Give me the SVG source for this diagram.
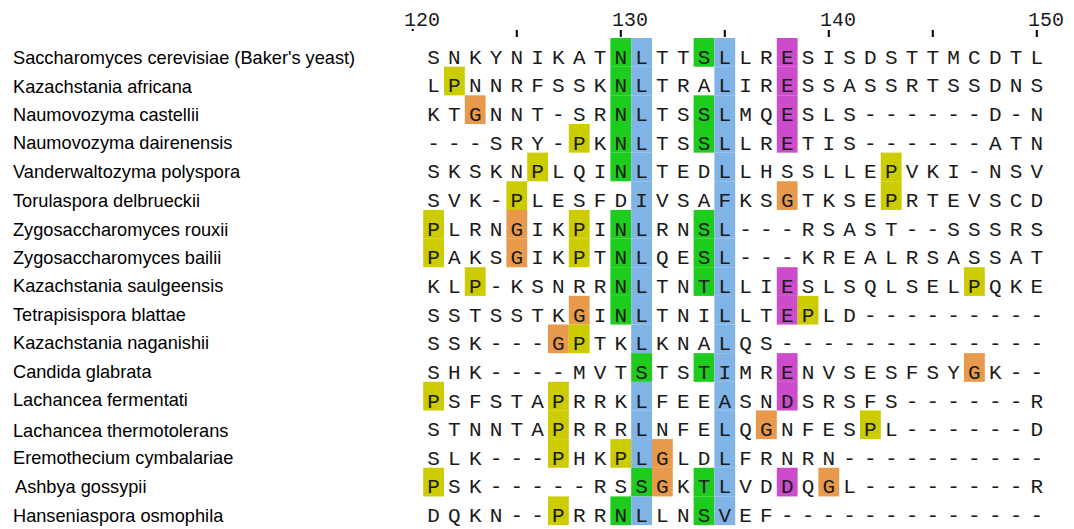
<svg xmlns="http://www.w3.org/2000/svg" width="1074" height="529" viewBox="0 0 1074 529">
<style>
.g{fill:#1dcc1d}.b{fill:#80b3e6}.m{fill:#cc4ccc}.y{fill:#cccc00}.o{fill:#e8994c}
.seq{font-family:"Liberation Mono",monospace;font-size:21px;fill:#1a1a1a;text-anchor:middle}
.lab{font-family:"Liberation Sans",Arial,sans-serif;font-size:18.2px;fill:#000}
.rul{font-family:"Liberation Mono",monospace;font-size:20px;fill:#1a1a1a}
.tick{fill:#000}
</style>
<rect width="1074" height="529" fill="#fff"/>
<g id="ruler">
<rect class="tick" x="411.8" y="29" width="2" height="2"/>
<rect class="tick" x="515.8" y="30" width="2" height="7"/>
<rect class="tick" x="619.8" y="30" width="2" height="7"/>
<rect class="tick" x="723.8" y="30" width="2" height="7"/>
<rect class="tick" x="827.8" y="30" width="2" height="7"/>
<rect class="tick" x="931.8" y="30" width="2" height="7"/>
<rect class="tick" x="1035.8" y="30" width="2" height="7"/>
<text class="rul" x="404" y="26">120</text>
<text class="rul" x="612" y="26">130</text>
<text class="rul" x="820" y="26">140</text>
<text class="rul" x="1028" y="26">150</text>
</g>
<g id="row1">
<text class="lab" x="13" y="64">Saccharomyces cerevisiae (Baker's yeast)</text>
<rect class="g" x="610.4" y="38" width="20.8" height="28.7"/><rect class="b" x="631.2" y="38" width="20.8" height="28.7"/><rect class="g" x="693.6" y="38" width="20.8" height="28.7"/><rect class="b" x="714.4" y="38" width="20.8" height="28.7"/><rect class="m" x="776.8" y="38" width="20.8" height="28.7"/>
<text class="seq" y="63.7" x="433.6 454.4 475.2 496 516.8 537.6 558.4 579.2 600 620.8 641.6 662.4 683.2 704 724.8 745.6 766.4 787.2 808 828.8 849.6 870.4 891.2 912 932.8 953.6 974.4 995.2 1016 1036.8">SNKYNIKATNLTTSLLRESISDSTTMCDTL</text>
</g>
<g id="row2">
<text class="lab" x="13" y="93">Kazachstania africana</text>
<rect class="y" x="444" y="66.65" width="20.8" height="28.7"/><rect class="g" x="610.4" y="66.65" width="20.8" height="28.7"/><rect class="b" x="631.2" y="66.65" width="20.8" height="28.7"/><rect class="b" x="714.4" y="66.65" width="20.8" height="28.7"/><rect class="m" x="776.8" y="66.65" width="20.8" height="28.7"/>
<text class="seq" y="92.3" x="433.6 454.4 475.2 496 516.8 537.6 558.4 579.2 600 620.8 641.6 662.4 683.2 704 724.8 745.6 766.4 787.2 808 828.8 849.6 870.4 891.2 912 932.8 953.6 974.4 995.2 1016 1036.8">LPNNRFSSKNLTRALIRESSASSRTSSDNS</text>
</g>
<g id="row3">
<text class="lab" x="13" y="121">Naumovozyma castellii</text>
<rect class="o" x="464.8" y="95.3" width="20.8" height="28.7"/><rect class="g" x="610.4" y="95.3" width="20.8" height="28.7"/><rect class="b" x="631.2" y="95.3" width="20.8" height="28.7"/><rect class="g" x="693.6" y="95.3" width="20.8" height="28.7"/><rect class="b" x="714.4" y="95.3" width="20.8" height="28.7"/><rect class="m" x="776.8" y="95.3" width="20.8" height="28.7"/>
<text class="seq" y="121" x="433.6 454.4 475.2 496 516.8 537.6 558.4 579.2 600 620.8 641.6 662.4 683.2 704 724.8 745.6 766.4 787.2 808 828.8 849.6 870.4 891.2 912 932.8 953.6 974.4 995.2 1016 1036.8">KTGNNT-SRNLTSSLMQESLS------D-N</text>
</g>
<g id="row4">
<text class="lab" x="13" y="148.5">Naumovozyma dairenensis</text>
<rect class="y" x="568.8" y="123.95" width="20.8" height="28.7"/><rect class="g" x="610.4" y="123.95" width="20.8" height="28.7"/><rect class="b" x="631.2" y="123.95" width="20.8" height="28.7"/><rect class="g" x="693.6" y="123.95" width="20.8" height="28.7"/><rect class="b" x="714.4" y="123.95" width="20.8" height="28.7"/><rect class="m" x="776.8" y="123.95" width="20.8" height="28.7"/>
<text class="seq" y="149.6" x="433.6 454.4 475.2 496 516.8 537.6 558.4 579.2 600 620.8 641.6 662.4 683.2 704 724.8 745.6 766.4 787.2 808 828.8 849.6 870.4 891.2 912 932.8 953.6 974.4 995.2 1016 1036.8">---SRY-PKNLTSSLLRETIS------ATN</text>
</g>
<g id="row5">
<text class="lab" x="13" y="177.5">Vanderwaltozyma polyspora</text>
<rect class="y" x="527.2" y="152.6" width="20.8" height="28.7"/><rect class="g" x="610.4" y="152.6" width="20.8" height="28.7"/><rect class="b" x="631.2" y="152.6" width="20.8" height="28.7"/><rect class="b" x="714.4" y="152.6" width="20.8" height="28.7"/><rect class="y" x="880.8" y="152.6" width="20.8" height="28.7"/>
<text class="seq" y="178.3" x="433.6 454.4 475.2 496 516.8 537.6 558.4 579.2 600 620.8 641.6 662.4 683.2 704 724.8 745.6 766.4 787.2 808 828.8 849.6 870.4 891.2 912 932.8 953.6 974.4 995.2 1016 1036.8">SKSKNPLQINLTEDLLHSSLLEPVKI-NSV</text>
</g>
<g id="row6">
<text class="lab" x="13" y="207">Torulaspora delbrueckii</text>
<rect class="y" x="506.4" y="181.25" width="20.8" height="28.7"/><rect class="b" x="631.2" y="181.25" width="20.8" height="28.7"/><rect class="b" x="714.4" y="181.25" width="20.8" height="28.7"/><rect class="o" x="776.8" y="181.25" width="20.8" height="28.7"/><rect class="y" x="880.8" y="181.25" width="20.8" height="28.7"/>
<text class="seq" y="206.9" x="433.6 454.4 475.2 496 516.8 537.6 558.4 579.2 600 620.8 641.6 662.4 683.2 704 724.8 745.6 766.4 787.2 808 828.8 849.6 870.4 891.2 912 932.8 953.6 974.4 995.2 1016 1036.8">SVK-PLESFDIVSAFKSGTKSEPRTEVSCD</text>
</g>
<g id="row7">
<text class="lab" x="13" y="236">Zygosaccharomyces rouxii</text>
<rect class="y" x="423.2" y="209.9" width="20.8" height="28.7"/><rect class="o" x="506.4" y="209.9" width="20.8" height="28.7"/><rect class="y" x="568.8" y="209.9" width="20.8" height="28.7"/><rect class="g" x="610.4" y="209.9" width="20.8" height="28.7"/><rect class="b" x="631.2" y="209.9" width="20.8" height="28.7"/><rect class="g" x="693.6" y="209.9" width="20.8" height="28.7"/><rect class="b" x="714.4" y="209.9" width="20.8" height="28.7"/>
<text class="seq" y="235.6" x="433.6 454.4 475.2 496 516.8 537.6 558.4 579.2 600 620.8 641.6 662.4 683.2 704 724.8 745.6 766.4 787.2 808 828.8 849.6 870.4 891.2 912 932.8 953.6 974.4 995.2 1016 1036.8">PLRNGIKPINLRNSL---RSAST--SSSRS</text>
</g>
<g id="row8">
<text class="lab" x="13" y="264">Zygosaccharomyces bailii</text>
<rect class="y" x="423.2" y="238.55" width="20.8" height="28.7"/><rect class="o" x="506.4" y="238.55" width="20.8" height="28.7"/><rect class="y" x="568.8" y="238.55" width="20.8" height="28.7"/><rect class="g" x="610.4" y="238.55" width="20.8" height="28.7"/><rect class="b" x="631.2" y="238.55" width="20.8" height="28.7"/><rect class="g" x="693.6" y="238.55" width="20.8" height="28.7"/><rect class="b" x="714.4" y="238.55" width="20.8" height="28.7"/>
<text class="seq" y="264.2" x="433.6 454.4 475.2 496 516.8 537.6 558.4 579.2 600 620.8 641.6 662.4 683.2 704 724.8 745.6 766.4 787.2 808 828.8 849.6 870.4 891.2 912 932.8 953.6 974.4 995.2 1016 1036.8">PAKSGIKPTNLQESL---KREALRSASSAT</text>
</g>
<g id="row9">
<text class="lab" x="13" y="292">Kazachstania saulgeensis</text>
<rect class="y" x="464.8" y="267.2" width="20.8" height="28.7"/><rect class="g" x="610.4" y="267.2" width="20.8" height="28.7"/><rect class="b" x="631.2" y="267.2" width="20.8" height="28.7"/><rect class="g" x="693.6" y="267.2" width="20.8" height="28.7"/><rect class="b" x="714.4" y="267.2" width="20.8" height="28.7"/><rect class="m" x="776.8" y="267.2" width="20.8" height="28.7"/><rect class="y" x="964" y="267.2" width="20.8" height="28.7"/>
<text class="seq" y="292.9" x="433.6 454.4 475.2 496 516.8 537.6 558.4 579.2 600 620.8 641.6 662.4 683.2 704 724.8 745.6 766.4 787.2 808 828.8 849.6 870.4 891.2 912 932.8 953.6 974.4 995.2 1016 1036.8">KLP-KSNRRNLTNTLLIESLSQLSELPQKE</text>
</g>
<g id="row10">
<text class="lab" x="13" y="321">Tetrapisispora blattae</text>
<rect class="o" x="568.8" y="295.85" width="20.8" height="28.7"/><rect class="g" x="610.4" y="295.85" width="20.8" height="28.7"/><rect class="b" x="631.2" y="295.85" width="20.8" height="28.7"/><rect class="b" x="714.4" y="295.85" width="20.8" height="28.7"/><rect class="m" x="776.8" y="295.85" width="20.8" height="28.7"/><rect class="y" x="797.6" y="295.85" width="20.8" height="28.7"/>
<text class="seq" y="321.5" x="433.6 454.4 475.2 496 516.8 537.6 558.4 579.2 600 620.8 641.6 662.4 683.2 704 724.8 745.6 766.4 787.2 808 828.8 849.6 870.4 891.2 912 932.8 953.6 974.4 995.2 1016 1036.8">SSTSSTKGINLTNILLTEPLD---------</text>
</g>
<g id="row11">
<text class="lab" x="13" y="349">Kazachstania naganishii</text>
<rect class="o" x="548" y="324.5" width="20.8" height="28.7"/><rect class="y" x="568.8" y="324.5" width="20.8" height="28.7"/><rect class="b" x="631.2" y="324.5" width="20.8" height="28.7"/><rect class="b" x="714.4" y="324.5" width="20.8" height="28.7"/>
<text class="seq" y="350.2" x="433.6 454.4 475.2 496 516.8 537.6 558.4 579.2 600 620.8 641.6 662.4 683.2 704 724.8 745.6 766.4 787.2 808 828.8 849.6 870.4 891.2 912 932.8 953.6 974.4 995.2 1016 1036.8">SSK---GPTKLKNALQS-------------</text>
</g>
<g id="row12">
<text class="lab" x="13" y="377.5">Candida glabrata</text>
<rect class="g" x="631.2" y="353.15" width="20.8" height="28.7"/><rect class="g" x="693.6" y="353.15" width="20.8" height="28.7"/><rect class="b" x="714.4" y="353.15" width="20.8" height="28.7"/><rect class="m" x="776.8" y="353.15" width="20.8" height="28.7"/><rect class="o" x="964" y="353.15" width="20.8" height="28.7"/>
<text class="seq" y="378.8" x="433.6 454.4 475.2 496 516.8 537.6 558.4 579.2 600 620.8 641.6 662.4 683.2 704 724.8 745.6 766.4 787.2 808 828.8 849.6 870.4 891.2 912 932.8 953.6 974.4 995.2 1016 1036.8">SHK----MVTSTSTIMRENVSESFSYGK--</text>
</g>
<g id="row13">
<text class="lab" x="13" y="406">Lachancea fermentati</text>
<rect class="y" x="423.2" y="381.8" width="20.8" height="28.7"/><rect class="y" x="548" y="381.8" width="20.8" height="28.7"/><rect class="b" x="631.2" y="381.8" width="20.8" height="28.7"/><rect class="b" x="714.4" y="381.8" width="20.8" height="28.7"/><rect class="m" x="776.8" y="381.8" width="20.8" height="28.7"/>
<text class="seq" y="407.5" x="433.6 454.4 475.2 496 516.8 537.6 558.4 579.2 600 620.8 641.6 662.4 683.2 704 724.8 745.6 766.4 787.2 808 828.8 849.6 870.4 891.2 912 932.8 953.6 974.4 995.2 1016 1036.8">PSFSTAPRRKLFEEASNDSRSFS------R</text>
</g>
<g id="row14">
<text class="lab" x="13" y="436.5">Lachancea thermotolerans</text>
<rect class="y" x="548" y="410.45" width="20.8" height="28.7"/><rect class="b" x="631.2" y="410.45" width="20.8" height="28.7"/><rect class="b" x="714.4" y="410.45" width="20.8" height="28.7"/><rect class="o" x="756" y="410.45" width="20.8" height="28.7"/><rect class="y" x="860" y="410.45" width="20.8" height="28.7"/>
<text class="seq" y="436.1" x="433.6 454.4 475.2 496 516.8 537.6 558.4 579.2 600 620.8 641.6 662.4 683.2 704 724.8 745.6 766.4 787.2 808 828.8 849.6 870.4 891.2 912 932.8 953.6 974.4 995.2 1016 1036.8">STNNTAPRRRLNFELQGNFESPL------D</text>
</g>
<g id="row15">
<text class="lab" x="13" y="464">Eremothecium cymbalariae</text>
<rect class="y" x="548" y="439.1" width="20.8" height="28.7"/><rect class="y" x="610.4" y="439.1" width="20.8" height="28.7"/><rect class="b" x="631.2" y="439.1" width="20.8" height="28.7"/><rect class="o" x="652" y="439.1" width="20.8" height="28.7"/><rect class="b" x="714.4" y="439.1" width="20.8" height="28.7"/>
<text class="seq" y="464.8" x="433.6 454.4 475.2 496 516.8 537.6 558.4 579.2 600 620.8 641.6 662.4 683.2 704 724.8 745.6 766.4 787.2 808 828.8 849.6 870.4 891.2 912 932.8 953.6 974.4 995.2 1016 1036.8">SLK---PHKPLGLDLFRNRN----------</text>
</g>
<g id="row16">
<text class="lab" x="15" y="493">Ashbya gossypii</text>
<rect class="y" x="423.2" y="467.75" width="20.8" height="28.7"/><rect class="g" x="631.2" y="467.75" width="20.8" height="28.7"/><rect class="o" x="652" y="467.75" width="20.8" height="28.7"/><rect class="g" x="693.6" y="467.75" width="20.8" height="28.7"/><rect class="b" x="714.4" y="467.75" width="20.8" height="28.7"/><rect class="m" x="776.8" y="467.75" width="20.8" height="28.7"/><rect class="o" x="818.4" y="467.75" width="20.8" height="28.7"/>
<text class="seq" y="493.4" x="433.6 454.4 475.2 496 516.8 537.6 558.4 579.2 600 620.8 641.6 662.4 683.2 704 724.8 745.6 766.4 787.2 808 828.8 849.6 870.4 891.2 912 932.8 953.6 974.4 995.2 1016 1036.8">PSK-----RSSGKTLVDDQGL--------R</text>
</g>
<g id="row17">
<text class="lab" x="13" y="521.5">Hanseniaspora osmophila</text>
<rect class="y" x="548" y="496.4" width="20.8" height="28.7"/><rect class="g" x="610.4" y="496.4" width="20.8" height="28.7"/><rect class="b" x="631.2" y="496.4" width="20.8" height="28.7"/><rect class="g" x="693.6" y="496.4" width="20.8" height="28.7"/><rect class="b" x="714.4" y="496.4" width="20.8" height="28.7"/>
<text class="seq" y="522" x="433.6 454.4 475.2 496 516.8 537.6 558.4 579.2 600 620.8 641.6 662.4 683.2 704 724.8 745.6 766.4 787.2 808 828.8 849.6 870.4 891.2 912 932.8 953.6 974.4 995.2 1016 1036.8">DQKN--PRRNLLNSVEF-------------</text>
</g>
<g id="connectors"></g>
</svg>
